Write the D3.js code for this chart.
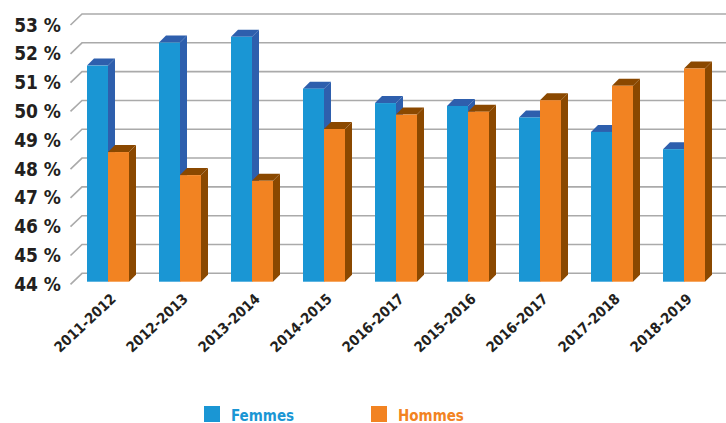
<!DOCTYPE html>
<html>
<head>
<meta charset="utf-8">
<script src="https://cdn.jsdelivr.net/npm/d3@7"></script>
<style>
  body { margin: 0; background: #fff; }
  svg { display: block; }
  text { font-family: "DejaVu Sans Condensed", "DejaVu Sans", sans-serif; font-weight: bold; }
</style>
</head>
<body>
<svg id="chart"></svg>
<script>
const width = 726
const height = 423

// Data
const periods = ['2011-2012', '2012-2013', '2013-2014', '2014-2015', '2016-2017',
                 '2015-2016', '2016-2017', '2017-2018', '2018-2019'];
const femmes = [51.5, 52.3, 52.5, 50.7, 50.2, 50.1, 49.7, 49.2, 48.6];
const hommes = [48.5, 47.7, 47.5, 49.3, 49.8, 49.9, 50.3, 50.8, 51.4];
const yTicks = [44, 45, 46, 47, 48, 49, 50, 51, 52, 53];
const seriesNames = ['Femmes', 'Hommes'];
const frontColors = ['#1a96d4', '#f28322'];
const sideColors = ['#2e5fad', '#8a4800'];

const depth = 7;       // 3d depth of the bars
const front = 8.4;     // offset of front plane below back wall
const wallLeft = 82;

var svg = d3.select('#chart')
    .attr('width', width)
    .attr('height', height);

var y = d3.scaleLinear()
    .domain([44, 53])
    .range([273.3, 14]);

var x = d3.scaleBand()
    .domain(d3.range(periods.length))   // index domain: '2016-2017' appears twice
    .range([72, 720]);

var x1 = d3.scaleBand()
    .domain([0, 1])
    .range([15, 57]);

// Gridlines on the back wall, with the small floor diagonal on the left
svg.append('g')
    .selectAll('path')
    .data(yTicks)
    .enter()
    .append('path')
    .attr('d', d => `M${wallLeft - 11.5},${y(d) + 11} L${wallLeft},${y(d)} L${width},${y(d)}`)
    .attr('fill', 'none')
    .attr('stroke', '#aaaaaa')
    .attr('stroke-width', 1.6);

// Y axis labels
var yAxis = svg.append('g')
    .attr('transform', 'translate(61,11)')
    .call(d3.axisLeft(y).tickValues(yTicks).tickSize(0).tickPadding(0).tickFormat(d => d + ' %'));
yAxis.select('.domain').remove();
yAxis.selectAll('text')
    .attr('font-size', 19)
    .attr('fill', '#231f20')
    .attr('font-family', null);

// Bars
var bars = [];
for (let i = 0; i < periods.length; i++) {
    [femmes[i], hommes[i]].forEach((v, s) => {
        let x0 = x(i) + x1(s);
        let w = x1.bandwidth();
        let top = y(v) + front;
        let bottom = y(44) + front;
        bars.push({ x0, w, top, bottom, s });
    });
}

var barG = svg.append('g');
bars.forEach(b => {
    let g = barG.append('g');
    g.append('path')
        .attr('d', `M${b.x0 + b.w},${b.top} L${b.x0 + b.w + depth},${b.top - depth} L${b.x0 + b.w + depth},${b.bottom - depth} L${b.x0 + b.w},${b.bottom} Z`)
        .attr('fill', sideColors[b.s]);
    g.append('path')
        .attr('d', `M${b.x0},${b.top} L${b.x0 + depth},${b.top - depth} L${b.x0 + b.w + depth},${b.top - depth} L${b.x0 + b.w},${b.top} Z`)
        .attr('fill', sideColors[b.s]);
    g.append('rect')
        .attr('x', b.x0)
        .attr('y', b.top)
        .attr('width', b.w)
        .attr('height', b.bottom - b.top)
        .attr('fill', frontColors[b.s]);
});

// X axis labels, rotated
var xAxis = svg.append('g')
    .attr('transform', 'translate(0,300)')
    .call(d3.axisBottom(x).tickSize(0).tickFormat(i => periods[i]));
xAxis.select('.domain').remove();
xAxis.selectAll('text')
    .attr('x', 0)
    .attr('y', 0)
    .attr('dy', 0)
    .attr('transform', 'translate(9,0) rotate(-43)')
    .attr('text-anchor', 'end')
    .attr('font-size', 14.5)
    .attr('fill', '#231f20')
    .attr('font-family', null);

// Legend
var legend = svg.append('g')
    .selectAll('g')
    .data(seriesNames)
    .enter()
    .append('g')
    .attr('transform', (d, i) => `translate(${[204, 371][i]},406)`);

legend.append('rect')
    .attr('width', 16)
    .attr('height', 16)
    .attr('fill', (d, i) => frontColors[i]);

legend.append('text')
    .attr('x', 27)
    .attr('y', 14.5)
    .attr('font-size', 15)
    .attr('fill', (d, i) => frontColors[i])
    .text(d => d);
</script>
</body>
</html>
